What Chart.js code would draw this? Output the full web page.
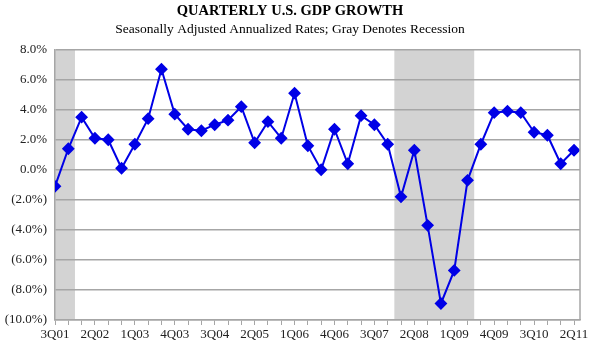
<!DOCTYPE html>
<html>
<head>
    <title>Quarterly U.S. GDP Growth</title>
    <script src="https://cdn.jsdelivr.net/npm/chart.js"></script>
    <style>
        body { margin: 0; background: #fff; }
        #wrap { width: 600px; height: 347px; }
    </style>
</head>
<body>
    <div id="wrap"><canvas id="gdpChart" width="600" height="347"></canvas></div>
    <script>
        // quarters 3Q01 .. 2Q11
        const quarters = [
            '3Q01', '4Q01', '1Q02', '2Q02', '3Q02', '4Q02', '1Q03', '2Q03', '3Q03', '4Q03',
            '1Q04', '2Q04', '3Q04', '4Q04', '1Q05', '2Q05', '3Q05', '4Q05', '1Q06', '2Q06',
            '3Q06', '4Q06', '1Q07', '2Q07', '3Q07', '4Q07', '1Q08', '2Q08', '3Q08', '4Q08',
            '1Q09', '2Q09', '3Q09', '4Q09', '1Q10', '2Q10', '3Q10', '4Q10', '1Q11', '2Q11'
        ];
        const gdpGrowth = [
            -1.1, 1.4, 3.5, 2.1, 2.0, 0.1, 1.7, 3.4, 6.7, 3.7,
            2.7, 2.6, 3.0, 3.3, 4.2, 1.8, 3.2, 2.1, 5.1, 1.6,
            0.0, 2.7, 0.4, 3.6, 3.0, 1.7, -1.8, 1.3, -3.7, -8.9,
            -6.7, -0.7, 1.7, 3.8, 3.9, 3.8, 2.5, 2.3, 0.4, 1.3
        ];
        // recession spans, first and last quarter shaded
        const recessionFrom = ['3Q01', '1Q08'];
        const recessionTo = ['4Q01', '2Q09'];
        const yTicks = [-10, -8, -6, -4, -2, 0, 2, 4, 6, 8];

        const points = gdpGrowth.map((v, i) => ({ x: i, y: v }));

        const recessionShade = {
            id: 'recessionShade',
            beforeDraw(chart) {
                const { ctx, chartArea, scales } = chart;
                ctx.save();
                ctx.beginPath();
                ctx.rect(chartArea.left, chartArea.top, chartArea.right - chartArea.left, chartArea.bottom - chartArea.top);
                ctx.clip();
                ctx.fillStyle = '#d3d3d3';
                recessionFrom.forEach((q, k) => {
                    const x1 = scales.x.getPixelForValue(quarters.indexOf(q) - 0.5);
                    const x2 = scales.x.getPixelForValue(quarters.indexOf(recessionTo[k]) + 0.5);
                    ctx.fillRect(x1, chartArea.top, x2 - x1, chartArea.bottom - chartArea.top);
                });
                ctx.restore();
            },
            afterDraw(chart) {
                // right edge of the plot area
                const { ctx, chartArea } = chart;
                ctx.save();
                ctx.strokeStyle = '#a6a6a6';
                ctx.lineWidth = 1.5;
                ctx.beginPath();
                ctx.moveTo(chartArea.right, chartArea.top);
                ctx.lineTo(chartArea.right, chartArea.bottom);
                ctx.stroke();
                ctx.restore();
            }
        };

        const serif = '"Liberation Serif", "Times New Roman", serif';

        new Chart(document.getElementById('gdpChart'), {
            type: 'line',
            data: {
                datasets: [{
                    data: points,
                    borderColor: '#0000e6',
                    backgroundColor: '#0000e6',
                    borderWidth: 2,
                    pointStyle: 'rectRot',
                    pointRadius: 5,
                    pointHoverRadius: 5,
                    tension: 0
                }]
            },
            options: {
                responsive: false,
                animation: false,
                layout: { padding: { left: 0, right: 20, top: 0, bottom: 0 } },
                plugins: {
                    legend: { display: false },
                    tooltip: { enabled: false },
                    title: {
                        display: true,
                        text: 'QUARTERLY U.S. GDP GROWTH',
                        color: '#000',
                        font: { family: serif, size: 14.5, weight: 'bold' },
                        padding: { top: 3, bottom: 1 }
                    },
                    subtitle: {
                        display: true,
                        text: 'Seasonally Adjusted Annualized Rates; Gray Denotes Recession',
                        color: '#000',
                        font: { family: serif, size: 13.5 },
                        padding: { top: 0, bottom: 12 }
                    }
                },
                scales: {
                    x: {
                        type: 'linear',
                        min: 0,
                        max: 39.45,
                        afterBuildTicks(axis) {
                            axis.ticks = quarters.map((q, i) => ({ value: i }));
                        },
                        afterFit(axis) { axis.height = 27; },
                        ticks: {
                            autoSkip: false,
                            maxRotation: 0,
                            color: '#222',
                            font: { family: serif, size: 13 },
                            padding: 2,
                            callback: (v) => (v % 3 === 0 ? quarters[v] : '')
                        },
                        grid: {
                            drawOnChartArea: false,
                            drawTicks: true,
                            tickLength: 5,
                            color: '#a6a6a6'
                        },
                        border: { color: '#a6a6a6', width: 1.5 }
                    },
                    y: {
                        min: -10,
                        max: 8,
                        afterBuildTicks(axis) {
                            axis.ticks = yTicks.map(v => ({ value: v }));
                        },
                        afterFit(axis) { axis.width = 55; },
                        ticks: {
                            color: '#222',
                            font: { family: serif, size: 13 },
                            padding: 8,
                            callback: (v) => (v < 0 ? '(' + Math.abs(v).toFixed(1) + '%)' : v.toFixed(1) + '%')
                        },
                        grid: {
                            color: '#a6a6a6',
                            lineWidth: 1.5,
                            drawTicks: false
                        },
                        border: { color: '#a6a6a6', width: 1.5 }
                    }
                }
            },
            plugins: [recessionShade]
        });
    </script>
</body>
</html>
